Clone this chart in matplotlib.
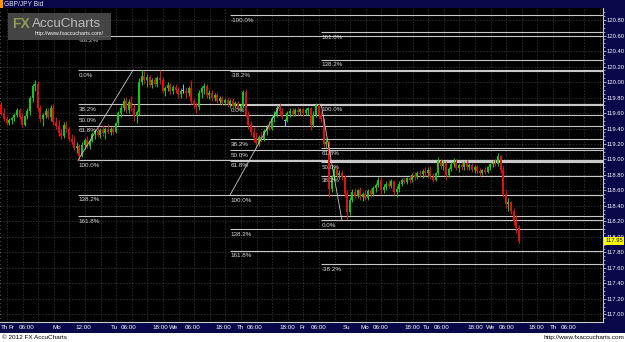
import matplotlib
matplotlib.use('Agg')
import matplotlib.pyplot as plt
from matplotlib.patches import Rectangle
import numpy as np

# hourly GBP/JPY candles
opens = [119.70, 119.60, 119.52, 119.47, 119.51, 119.53, 119.58, 119.64, 119.55, 119.45,
         119.56, 119.62, 119.79, 119.95, 119.97, 119.66, 119.52, 119.57, 119.62, 119.55,
         119.66, 119.48, 119.43, 119.34, 119.30, 119.44, 119.39, 119.27, 119.23, 119.15,
         119.18, 119.05, 119.19, 119.25, 119.18, 119.24, 119.33, 119.37, 119.32, 119.38,
         119.34, 119.40, 119.36, 119.39, 119.35, 119.47, 119.60, 119.66, 119.76, 119.64,
         119.74, 119.66, 119.56, 119.61, 120.00, 120.08, 120.02, 120.06, 119.96, 120.02,
         119.98, 120.05, 120.02, 119.89, 119.92, 119.96, 119.88, 119.93, 119.90, 119.84,
         119.89, 119.89, 119.86, 119.92, 119.76, 119.70, 119.68, 119.86, 119.92, 119.95,
         119.83, 119.86, 119.79, 119.83, 119.76, 119.79, 119.73, 119.77, 119.71, 119.75,
         119.69, 119.73, 119.67, 119.69, 119.87, 119.58, 119.44, 119.36, 119.28, 119.21,
         119.29, 119.26, 119.37, 119.42, 119.40, 119.53, 119.58, 119.67, 119.62, 119.50,
         119.50, 119.60, 119.63, 119.59, 119.64, 119.61, 119.65, 119.60, 119.64, 119.66,
         119.45, 119.58, 119.70, 119.57, 119.52, 119.20, 119.23, 118.62, 118.77, 118.88,
         118.80, 118.83, 118.77, 118.56, 118.32, 118.48, 118.58, 118.53, 118.60, 118.51,
         118.55, 118.50, 118.59, 118.55, 118.63, 118.67, 118.74, 118.60, 118.65, 118.69,
         118.66, 118.72, 118.58, 118.62, 118.69, 118.73, 118.71, 118.76, 118.73, 118.80,
         118.77, 118.83, 118.81, 118.85, 118.82, 118.87, 118.78, 118.74, 118.82, 118.98,
         118.92, 118.95, 118.80, 118.88, 118.94, 118.97, 118.89, 118.93, 118.90, 118.95,
         118.90, 118.93, 118.87, 118.90, 118.85, 118.82, 118.86, 118.84, 118.90, 118.94,
         118.96, 118.94, 119.04, 118.86, 118.56, 118.42, 118.45, 118.33, 118.20, 118.12]
highs = [119.74, 119.66, 119.56, 119.53, 119.55, 119.60, 119.66, 119.67, 119.60, 119.58,
         119.66, 119.82, 119.98, 120.03, 120.01, 119.70, 119.60, 119.66, 119.66, 119.70,
         119.72, 119.55, 119.51, 119.40, 119.48, 119.50, 119.42, 119.33, 119.30, 119.22,
         119.20, 119.22, 119.28, 119.30, 119.26, 119.36, 119.40, 119.42, 119.41, 119.44,
         119.42, 119.46, 119.42, 119.43, 119.49, 119.62, 119.70, 119.80, 119.81, 119.78,
         119.82, 119.72, 119.64, 120.05, 120.15, 120.14, 120.10, 120.09, 120.05, 120.06,
         120.08, 120.16, 120.06, 119.95, 120.00, 119.99, 119.96, 119.97, 119.94, 119.92,
         119.98, 119.93, 119.95, 120.03, 119.80, 119.74, 119.90, 119.95, 119.99, 119.98,
         119.90, 119.90, 119.86, 119.86, 119.82, 119.82, 119.80, 119.81, 119.78, 119.79,
         119.76, 119.76, 119.72, 119.90, 119.91, 119.62, 119.50, 119.42, 119.35, 119.32,
         119.36, 119.40, 119.45, 119.50, 119.56, 119.62, 119.70, 119.73, 119.66, 119.52,
         119.62, 119.66, 119.67, 119.66, 119.68, 119.67, 119.68, 119.67, 119.68, 119.68,
         119.62, 119.73, 119.72, 119.62, 119.54, 119.28, 119.25, 118.80, 118.92, 118.92,
         118.86, 118.87, 118.80, 118.60, 118.52, 118.62, 118.63, 118.62, 118.64, 118.58,
         118.60, 118.62, 118.63, 118.66, 118.70, 118.77, 118.78, 118.68, 118.72, 118.74,
         118.75, 118.74, 118.66, 118.72, 118.76, 118.78, 118.78, 118.80, 118.82, 118.84,
         118.85, 118.87, 118.88, 118.90, 118.90, 118.91, 118.82, 118.84, 119.03, 119.01,
         118.99, 118.98, 118.90, 118.97, 119.02, 119.00, 118.96, 118.97, 118.98, 118.99,
         118.96, 118.95, 118.93, 118.93, 118.89, 118.88, 118.90, 118.92, 118.96, 118.99,
         119.00, 119.08, 119.06, 118.92, 118.60, 118.50, 118.47, 118.38, 118.28, 118.16]
lows = [119.58, 119.50, 119.44, 119.45, 119.46, 119.50, 119.55, 119.52, 119.42, 119.43,
        119.52, 119.58, 119.74, 119.88, 119.62, 119.48, 119.43, 119.53, 119.52, 119.50,
        119.44, 119.40, 119.30, 119.26, 119.28, 119.36, 119.24, 119.20, 119.12, 119.08,
        118.99, 119.03, 119.14, 119.15, 119.13, 119.22, 119.27, 119.29, 119.28, 119.30,
        119.27, 119.33, 119.31, 119.33, 119.34, 119.44, 119.55, 119.62, 119.60, 119.60,
        119.62, 119.50, 119.47, 119.58, 119.96, 119.98, 119.94, 119.93, 119.92, 119.95,
        119.94, 119.98, 119.86, 119.82, 119.88, 119.85, 119.84, 119.86, 119.80, 119.80,
        119.86, 119.80, 119.82, 119.72, 119.66, 119.60, 119.64, 119.80, 119.84, 119.80,
        119.78, 119.76, 119.75, 119.73, 119.72, 119.70, 119.70, 119.68, 119.67, 119.66,
        119.66, 119.64, 119.63, 119.67, 119.55, 119.40, 119.32, 119.22, 119.16, 119.18,
        119.22, 119.24, 119.32, 119.38, 119.38, 119.48, 119.55, 119.58, 119.52, 119.43,
        119.48, 119.55, 119.56, 119.56, 119.58, 119.57, 119.56, 119.57, 119.58, 119.38,
        119.42, 119.55, 119.54, 119.48, 119.16, 119.15, 118.52, 118.58, 118.74, 118.76,
        118.75, 118.74, 118.52, 118.23, 118.28, 118.45, 118.50, 118.50, 118.48, 118.47,
        118.48, 118.48, 118.52, 118.53, 118.58, 118.64, 118.56, 118.57, 118.61, 118.63,
        118.63, 118.54, 118.52, 118.58, 118.66, 118.68, 118.69, 118.70, 118.71, 118.74,
        118.75, 118.78, 118.76, 118.79, 118.78, 118.75, 118.71, 118.72, 118.80, 118.88,
        118.86, 118.74, 118.77, 118.85, 118.90, 118.86, 118.84, 118.86, 118.87, 118.87,
        118.86, 118.84, 118.83, 118.82, 118.79, 118.80, 118.81, 118.82, 118.87, 118.90,
        118.91, 118.92, 118.82, 118.52, 118.38, 118.34, 118.30, 118.16, 118.05, 117.92]
closes = [119.60, 119.52, 119.47, 119.51, 119.53, 119.58, 119.64, 119.55, 119.45, 119.56,
          119.62, 119.79, 119.95, 119.97, 119.66, 119.52, 119.57, 119.62, 119.55, 119.66,
          119.48, 119.43, 119.34, 119.30, 119.44, 119.39, 119.27, 119.23, 119.15, 119.18,
          119.05, 119.19, 119.25, 119.18, 119.24, 119.33, 119.37, 119.32, 119.38, 119.34,
          119.40, 119.36, 119.39, 119.35, 119.47, 119.60, 119.66, 119.76, 119.64, 119.74,
          119.66, 119.56, 119.61, 120.00, 120.08, 120.02, 120.06, 119.96, 120.02, 119.98,
          120.05, 120.02, 119.89, 119.92, 119.96, 119.88, 119.93, 119.90, 119.84, 119.89,
          119.89, 119.86, 119.92, 119.76, 119.70, 119.68, 119.86, 119.92, 119.95, 119.83,
          119.86, 119.79, 119.83, 119.76, 119.79, 119.73, 119.77, 119.71, 119.75, 119.69,
          119.73, 119.67, 119.69, 119.87, 119.58, 119.44, 119.36, 119.28, 119.21, 119.29,
          119.26, 119.37, 119.42, 119.40, 119.53, 119.58, 119.67, 119.62, 119.55, 119.50,
          119.60, 119.63, 119.59, 119.64, 119.61, 119.65, 119.60, 119.64, 119.66, 119.45,
          119.58, 119.70, 119.57, 119.52, 119.20, 119.23, 118.62, 118.77, 118.88, 118.80,
          118.83, 118.77, 118.56, 118.32, 118.48, 118.58, 118.53, 118.60, 118.51, 118.55,
          118.50, 118.59, 118.55, 118.63, 118.67, 118.74, 118.60, 118.65, 118.69, 118.66,
          118.72, 118.58, 118.62, 118.69, 118.73, 118.71, 118.76, 118.73, 118.80, 118.77,
          118.83, 118.81, 118.85, 118.82, 118.87, 118.78, 118.74, 118.82, 118.98, 118.92,
          118.95, 118.80, 118.88, 118.94, 118.97, 118.89, 118.93, 118.90, 118.95, 118.90,
          118.93, 118.87, 118.90, 118.85, 118.82, 118.86, 118.84, 118.90, 118.94, 118.96,
          118.94, 119.04, 118.86, 118.56, 118.42, 118.45, 118.33, 118.20, 118.12, 117.95]

# fibonacci drawings: anchor hours and prices (0% / 100%), levels shown
fib1_hours = [51.2, 30.0]
fib1_prices = [120.155, 118.99]
fib1_levels = [-38.2, 0.0, 38.2, 50.0, 61.8, 100.0, 138.2, 161.8]
fib2_hours = [107.7, 88.5]
fib2_prices = [119.703, 118.542]
fib2_levels = [-100.0, -38.2, 0.0, 38.2, 50.0, 61.8, 100.0, 138.2, 161.8]
fib3_hours = [131.5, 123.5]
fib3_prices = [118.219, 119.716]
fib3_levels = [-38.2, 0.0, 38.2, 50.0, 61.8, 100.0, 138.2, 161.8]

# time axis labels (hour positions on the chart)
tick_hours = [0.15, 3.3, 10.2, 21.7, 31.9, 43.8, 49.6, 61.7, 66.9, 74.0, 86.0, 92.3, 98.1,
              110.4, 116.3, 122.7, 133.3, 140.2, 146.5, 158.7, 163.8, 170.0, 182.9, 188.7,
              194.8, 206.3, 212.9, 218.7]
tick_labels = ['Th', 'Fr', '06:00', 'Mo', '12:00', 'Tu', '06:00', '18:00', 'We', '06:00',
               '18:00', 'Th', '06:00', '18:00', 'Fr', '06:00', 'Su', 'Mo', '06:00', '18:00',
               'Tu', '06:00', '18:00', 'We', '06:00', '18:00', 'Th', '06:00']
last_price = 117.95

NAVY = '#07074a'
FIBC = '#c8c8c8'
FS = 4.5
plt.rcParams['font.family'] = ['Liberation Sans', 'DejaVu Sans']

W, H = 625, 342
fig = plt.figure(figsize=(W / 100, H / 100), dpi=100, facecolor=NAVY)
fig.patches.append(Rectangle((0, 0), 1, 9 / H, transform=fig.transFigure,
                             facecolor='white', edgecolor='none', zorder=0))
ax = fig.add_axes([0, 20 / H, 603 / W, 314 / H], facecolor='black')
ax.set_xlim(0, 603 / 2.6)
ax.set_ylim(116.903, 120.955)
xmax = 603 / 2.6

# grid
ax.set_yticks(np.arange(117.0, 120.81, 0.2))
ax.set_yticks(np.arange(116.95, 120.95, 0.05), minor=True)
ax.grid(axis='y', which='major', color='#5a5a5a', lw=0.6, linestyle=(0, (1, 2.6)))
for gx in np.arange(2.73, xmax, 6):
    ax.axvline(gx, color='#5a5a5a', lw=0.6, linestyle=(0, (1, 2.6)), zorder=1)

# candles
o = np.array(opens)
h = np.array(highs)
l = np.array(lows)
c = np.array(closes)
t = np.arange(len(c)) + 0.5
cols = np.where(c > o, '#12c812', np.where(c < o, '#e01010', '#80c0ff'))
ax.vlines(t, l, h, colors=cols, lw=0.75, zorder=3)
ax.bar(t, np.maximum(np.abs(c - o), 0.012), bottom=np.minimum(o, c), width=0.72,
       color=cols, linewidth=0, zorder=4)

# fibonacci retracements
for hrs, prs, levels in [(fib1_hours, fib1_prices, fib1_levels),
                         (fib2_hours, fib2_prices, fib2_levels),
                         (fib3_hours, fib3_prices, fib3_levels)]:
    x0 = min(hrs)
    ax.plot(hrs, prs, color=FIBC, lw=0.6, zorder=5)
    for lv in levels:
        y = prs[0] + (prs[1] - prs[0]) * lv / 100
        ax.hlines(y, x0, xmax, color=FIBC, lw=0.8, zorder=2)
        ax.annotate('%.1f%%' % lv, (x0, y), xytext=(0.5, -1.9), textcoords='offset points',
                    va='top', ha='left', fontsize=FS, color='#dcdcdc', zorder=6)

# axes styling
ax.yaxis.tick_right()
ax.yaxis.set_ticks_position('both')
ax.yaxis.set_major_formatter(matplotlib.ticker.FormatStrFormatter('%.2f'))
ax.tick_params(axis='y', which='major', labelright=True, labelleft=False, labelsize=4.2,
               labelcolor='white', color='#c8c8c8', length=1.8, width=0.6, pad=0.6)
ax.tick_params(axis='y', which='minor', color='#c8c8c8', length=1.2, width=0.5)
ax.set_xticks(tick_hours)
ax.set_xticklabels(tick_labels)
ax.tick_params(axis='x', length=0, labelsize=FS, labelcolor='white', pad=2.2)
for lab, pos in zip(ax.get_xticklabels(), tick_hours):
    if pos < 4:
        lab.set_horizontalalignment('left')
for s in ['top', 'left']:
    ax.spines[s].set_visible(False)
for s in ['right', 'bottom']:
    ax.spines[s].set_color('#c8c8c8')
    ax.spines[s].set_linewidth(0.8)

# current price tag
ax.text(1.004, last_price, '%.2f' % last_price, transform=ax.get_yaxis_transform(),
        va='center', ha='left', fontsize=4.2, color='black', zorder=10, clip_on=False,
        bbox=dict(boxstyle='square,pad=0.2', fc='#ffff00', ec='none'))

# header
fig.patches.append(Rectangle((0, 1 - 7.5 / H), 2.6 / W, 7 / H, transform=fig.transFigure,
                             facecolor='#ff9a00', edgecolor='none'))
fig.text(4.5 / W, 1 - 4 / H, 'GBP/JPY Bid', fontsize=4.8, color='#e8e8e8', va='center')

# watermark
fig.patches.append(Rectangle((8 / W, 1 - 39.5 / H), 103 / W, 26.5 / H, transform=fig.transFigure,
                             facecolor='#4c4c4c', edgecolor='none', alpha=0.9, zorder=8))
fig.text(12 / W, 1 - 24 / H, 'FX', fontsize=10, fontweight='bold', color='#8c9a55',
         va='center', zorder=9)
fig.text(32 / W, 1 - 24 / H, 'AccuCharts', fontsize=9.6, color='#bdbdbd', va='center', zorder=9)
fig.text(104 / W, 1 - 34 / H, 'http://www.fxaccucharts.com/', fontsize=3.8, color='white',
         va='center', ha='right', zorder=9)

# footer
fig.text(2 / W, 4.5 / H, '\u00a9 2012 FX AccuCharts', fontsize=4.6, color='black', va='center')
fig.text(624 / W, 4.5 / H, 'http://www.fxaccucharts.com', fontsize=4.6, color='black',
         va='center', ha='right')

fig.savefig('out.png', dpi=100, facecolor=NAVY)
